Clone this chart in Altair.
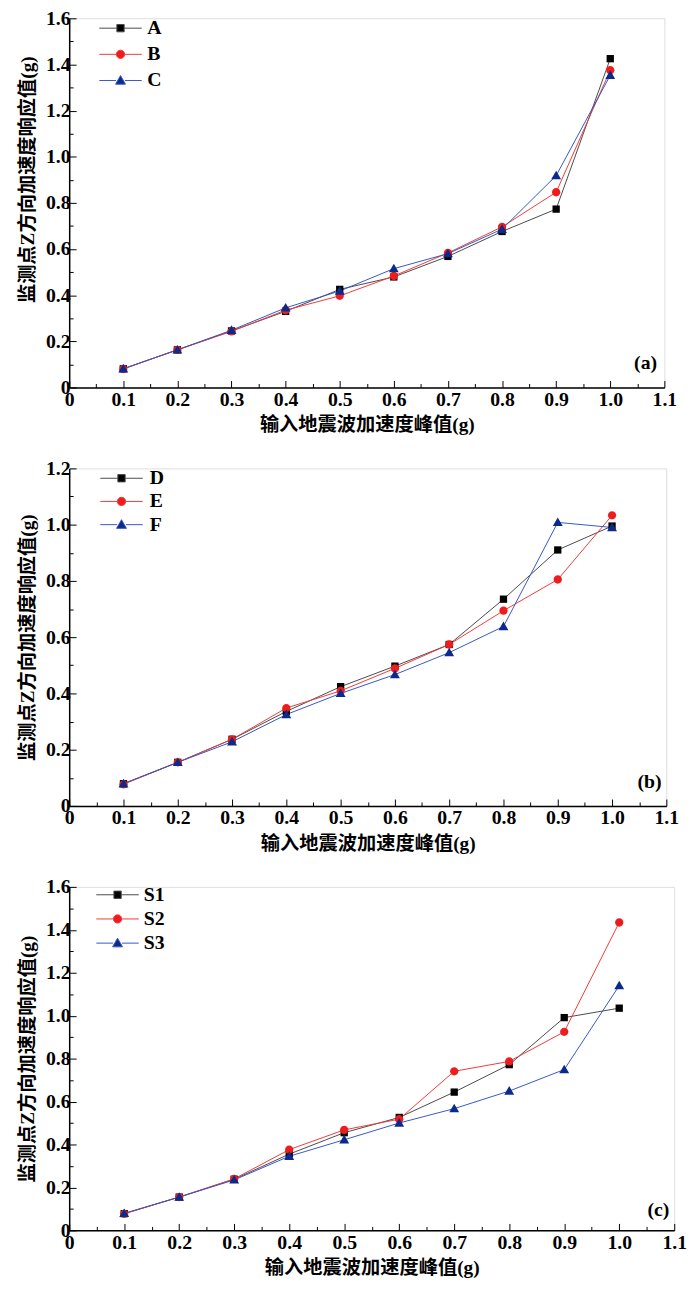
import altair as alt
import pandas as pd

# ---------------- data ----------------
x_vals = [0.1, 0.2, 0.3, 0.4, 0.5, 0.6, 0.7, 0.8, 0.9, 1.0]

names_a = ["A", "B", "C"]
val_A = [0.081, 0.163, 0.245, 0.330, 0.425, 0.479, 0.568, 0.676, 0.773, 1.425]
val_B = [0.080, 0.163, 0.243, 0.335, 0.397, 0.483, 0.583, 0.696, 0.846, 1.375]
val_C = [0.081, 0.163, 0.248, 0.345, 0.418, 0.515, 0.580, 0.686, 0.918, 1.353]

names_b = ["D", "E", "F"]
val_D = [0.079, 0.155, 0.237, 0.336, 0.424, 0.497, 0.574, 0.735, 0.910, 0.995]
val_E = [0.077, 0.155, 0.237, 0.348, 0.409, 0.489, 0.574, 0.694, 0.805, 1.033]
val_F = [0.079, 0.155, 0.228, 0.325, 0.400, 0.467, 0.545, 0.638, 1.008, 0.990]

names_c = ["S1", "S2", "S3"]
val_S1 = [0.078, 0.155, 0.238, 0.355, 0.455, 0.526, 0.644, 0.772, 0.991, 1.035]
val_S2 = [0.077, 0.155, 0.240, 0.376, 0.468, 0.518, 0.741, 0.787, 0.925, 1.434]
val_S3 = [0.079, 0.155, 0.235, 0.345, 0.422, 0.500, 0.567, 0.649, 0.749, 1.140]

tags = ["(a)", "(b)", "(c)"]
x_title = "输入地震波加速度峰值(g)"
y_title = "监测点Z方向加速度响应值(g)"

# ---------------- style ----------------
line_colors = ["#4a4a4a", "#f03a3a", "#3557c8"]
marker_colors = ["#000000", "#ee1c1c", "#0c2a8c"]

MK_SQ = "M-0.74,-0.74H0.74V0.74H-0.74Z"
MK_CI = "M0.84,0A0.84,0.84,0,1,1,-0.84,0A0.84,0.84,0,1,1,0.84,0Z"
MK_TR = "M0,-1L1,0.75H-1Z"
marker_paths = [MK_SQ, MK_CI, MK_TR]
legend_paths = [
    "M-4.3,0H-0.74M0.74,0H4.3" + MK_SQ,
    "M-4.3,0H-0.84M0.84,0H4.3" + MK_CI,
    "M-4.3,0H-0.9M0.9,0H4.3" + MK_TR,
]

LAT = "Liberation Serif"
TITLE_FONT = "Liberation Serif, Noto Sans CJK SC"


def x_axis():
    return alt.Axis(
        values=[round(i * 0.05, 2) for i in range(23)],
        labelExpr="round(datum.value*20) % 2 == 1 ? '' : (datum.value == 0 ? '0' : format(datum.value, '.1f'))",
        tickSize={"condition": {"test": "round(datum.value*20) % 2 == 1", "value": -4}, "value": -7},
        tickColor="black", tickWidth=1,
        domainColor="black", domainWidth=1.5,
        labelFont=LAT, labelFontWeight="bold", labelFontSize=20, labelColor="black",
        labelPadding=9, labelFlush=False, labelOverlap=False,
        title=x_title, titleFont=TITLE_FONT, titleFontSize=19.5, titleFontWeight="bold",
        titleColor="black", titlePadding=4, grid=False,
    )


def y_axis(ymax, title_y):
    n = int(round(ymax * 10))
    kw = {}
    if title_y is not None:
        kw["titleY"] = title_y
    return alt.Axis(
        values=[round(i * 0.1, 1) for i in range(n + 1)],
        labelExpr="round(datum.value*10) % 2 == 1 ? '' : (datum.value == 0 ? '0' : format(datum.value, '.1f'))",
        tickSize={"condition": {"test": "round(datum.value*10) % 2 == 1", "value": -4}, "value": -7},
        tickColor="black", tickWidth=1,
        domainColor="black", domainWidth=1.5,
        labelFont=LAT, labelFontWeight="bold", labelFontSize=20, labelColor="black",
        labelPadding=6, labelFlush=False, labelOverlap=False,
        title=y_title, titleFont=TITLE_FONT, titleFontSize=19.5, titleFontWeight="bold",
        titleColor="black", titlePadding=8, grid=False, **kw,
    )


def panel(names, series, ymax, width, height, tag, tag_x, tag_y,
          leg_x, leg_y, row_pad, lab_off, title_y=None):
    rows = []
    for nm, vals in zip(names, series):
        for xv, yv in zip(x_vals, vals):
            rows.append({"x": xv, "v": yv, "series": nm})
    df = pd.DataFrame(rows)

    xenc = alt.X("x:Q", scale=alt.Scale(domain=[0, 1.1], nice=False, zero=False), axis=x_axis())
    yenc = alt.Y("v:Q", scale=alt.Scale(domain=[0, ymax], nice=False), axis=y_axis(ymax, title_y))

    base = alt.Chart(df)
    lines = base.mark_line(strokeWidth=1).encode(
        x=xenc, y=yenc,
        stroke=alt.Stroke("series:N", scale=alt.Scale(domain=names, range=line_colors), legend=None),
    )
    pts = base.mark_point(filled=True, size=100, strokeWidth=0, opacity=1).encode(
        x=xenc, y=yenc,
        fill=alt.Fill("series:N", scale=alt.Scale(domain=names, range=marker_colors), legend=None),
        shape=alt.Shape("series:N", scale=alt.Scale(domain=names, range=marker_paths), legend=None),
    )
    leg = alt.Legend(
        orient="none", legendX=leg_x, legendY=leg_y, title=None,
        labelFont=LAT, labelFontWeight="bold", labelFontSize=20, labelColor="black",
        symbolSize=100, symbolStrokeWidth=1, symbolOpacity=1,
        labelOffset=lab_off, rowPadding=row_pad, padding=0,
    )
    legend_layer = base.transform_filter("false").mark_point(filled=True, size=100, strokeWidth=1).encode(
        x=xenc, y=yenc,
        fill=alt.Fill("series:N", scale=alt.Scale(domain=names, range=marker_colors), legend=leg),
        stroke=alt.Stroke("series:N", scale=alt.Scale(domain=names, range=line_colors), legend=leg),
        shape=alt.Shape("series:N", scale=alt.Scale(domain=names, range=legend_paths), legend=leg),
    )
    label = alt.Chart(pd.DataFrame({"t": [tag]})).mark_text(
        font=LAT, fontWeight="bold", fontSize=20, color="black", align="center", baseline="middle"
    ).encode(text="t:N", x=alt.value(tag_x), y=alt.value(tag_y))

    return alt.layer(lines, pts, legend_layer, label).resolve_scale(
        fill="independent", stroke="independent", shape="independent"
    ).properties(width=width, height=height)


pa = panel(names_a, [val_A, val_B, val_C], 1.6, 603, 374, tags[0], 584, 349,
           42, 0, 6.5, 17, title_y=163)
pb = panel(names_b, [val_D, val_E, val_F], 1.2, 605, 342, tags[1], 588, 318,
           43, 0, 3.5, 18.5)
pc = panel(names_c, [val_S1, val_S2, val_S3], 1.6, 613, 348, tags[2], 597, 327,
           39, -2, 4.5, 16.5)

chart = alt.vconcat(pa, pb, pc, spacing=23).resolve_scale(
    fill="independent", stroke="independent", shape="independent", x="independent", y="independent"
).properties(
    padding={"left": 9, "top": -9, "right": 5, "bottom": 5},
).configure_view(stroke=None).configure(background="white")

chart.save("out.html", embed_options={"renderer": "svg", "actions": False})
